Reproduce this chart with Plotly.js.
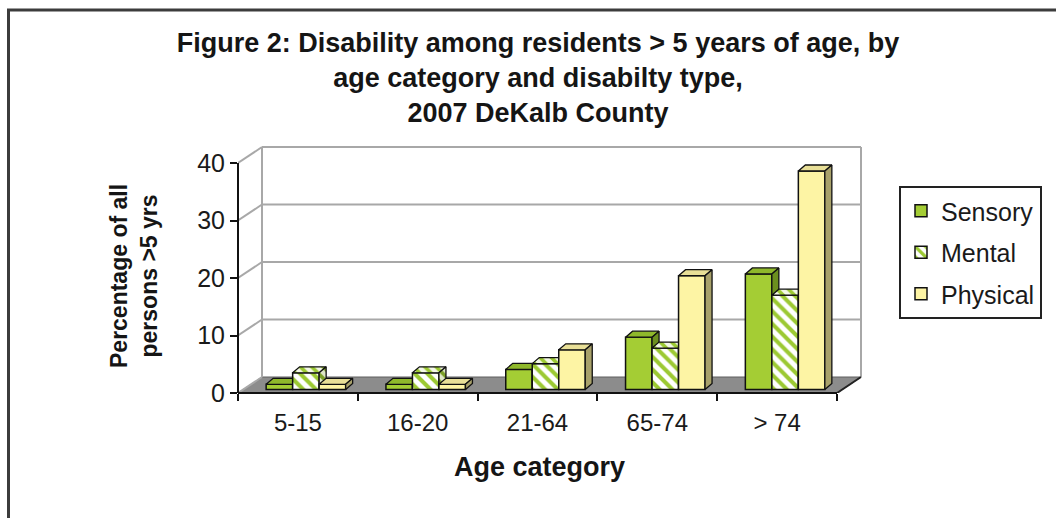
<!DOCTYPE html>
<html>
<head>
<meta charset="utf-8">
<script src="https://cdn.plot.ly/plotly-3.0.1.min.js"></script>
<style>
  html, body { margin: 0; padding: 0; background: #ffffff; }
  #chart { width: 1056px; height: 518px; }
</style>
</head>
<body>
<div id="chart"></div>
<script>
// Age categories and percentages by disability type
const categories = ['5-15', '16-20', '21-64', '65-74', '> 74'];
const sensory  = [0.9, 0.9, 3.5, 9.1, 20.1];
const mental   = [2.9, 2.9, 4.5, 7.2, 16.4];
const physical = [0.9, 0.9, 6.9, 19.8, 38.0];
const yTicks = [0, 10, 20, 30, 40];

const FONT = 'Liberation Sans, Arial, Helvetica, sans-serif';
const W = 1056, H = 518;
const M = { l: 238, r: 193, t: 146, b: 125 };
const PW = W - M.l - M.r, PH = H - M.t - M.b;

// pixel size of one category / one percentage point on the front plane
const CAT_PX = 119.8, VAL_PX = 5.75;
const xRange = [-0.5, -0.5 + PW / CAT_PX];
const yRange = [0, PH / VAL_PX];

// oblique depth offsets (converted to axis units)
const wall  = { dx: 24 / CAT_PX, dy: 16 / VAL_PX };   // back wall
const shift = { dx: 8 / CAT_PX,  dy: 3.5 / VAL_PX };  // plane the bars stand in
const depth = { dx: 7 / CAT_PX,  dy: 6 / VAL_PX };    // bar thickness
const barW = 26.5 / CAT_PX;

const px = v => (v - M.l) / PW;          // figure pixel -> paper x
const py = v => (H - M.b - v) / PH;      // figure pixel -> paper y

const series = [
  { name: 'Sensory', values: sensory,
    front: { color: '#a4cd34' }, top: '#8fb82b', side: '#6c8f1f' },
  { name: 'Mental', values: mental,
    front: { color: '#ffffff', pattern: { shape: '\\', fgcolor: '#9cc933', bgcolor: '#ffffff', size: 9, solidity: 0.45 } },
    topPattern: { shape: '\\', fgcolor: '#9cc933', bgcolor: '#f4f8e8', size: 8, solidity: 0.45 },
    sidePattern: { shape: '\\', fgcolor: '#7c9f27', bgcolor: '#dfe6c8', size: 8, solidity: 0.45 } },
  { name: 'Physical', values: physical,
    front: { color: '#fdf4a4' }, top: '#e8df97', side: '#a8a16a' }
];

const idx = categories.map((_, i) => i);
const traces = [];

series.forEach((s, k) => {
  const off = (k - 1.5) * barW;
  traces.push({
    type: 'bar', name: s.name, xaxis: 'x2', yaxis: 'y2',
    x: idx, y: s.values, width: barW, offset: off,
    legendgroup: s.name, zorder: 2 * k,
    marker: Object.assign({ line: { color: '#111111', width: 1.5 } }, s.front),
    hoverinfo: 'skip'
  });

  const topX = [], topY = [], sideX = [], sideY = [];
  s.values.forEach((v, i) => {
    const L = i + off, R = L + barW;
    topX.push(L, R, R + depth.dx, L + depth.dx, L, null);
    topY.push(v, v, v + depth.dy, v + depth.dy, v, null);
    sideX.push(R, R + depth.dx, R + depth.dx, R, R, null);
    sideY.push(0, depth.dy, v + depth.dy, v, 0, null);
  });
  const face = (xs, ys, color, pattern) => {
    const t = {
      type: 'scatter', mode: 'lines', xaxis: 'x2', yaxis: 'y2',
      x: xs, y: ys, fill: 'toself', showlegend: false,
      line: { color: '#111111', width: 1.3 }, zorder: 2 * k + 1,
      hoverinfo: 'skip'
    };
    if (pattern) { t.fillcolor = pattern.bgcolor; t.fillpattern = pattern; }
    else t.fillcolor = color;
    return t;
  };
  traces.push(face(topX, topY, s.top, s.topPattern));
  traces.push(face(sideX, sideY, s.side, s.sidePattern));
});

// walls, floor and front axes
const shapes = [];
const xL = -0.5, xR = categories.length - 0.5;
shapes.push({ type: 'path', xref: 'x', yref: 'y', layer: 'below',
  path: `M ${xL},0 L ${xR},0 L ${xR + wall.dx},${wall.dy} L ${xL + wall.dx},${wall.dy} Z`,
  fillcolor: '#8c8c8c', line: { color: '#5e5e5e', width: 1 } });
yTicks.forEach(v => {
  if (v > 0) {
    shapes.push({ type: 'line', xref: 'x', yref: 'y', layer: 'below',
      x0: xL + wall.dx, x1: xR + wall.dx, y0: v + wall.dy, y1: v + wall.dy,
      line: { color: '#a8a8a8', width: 2 } });
  }
  shapes.push({ type: 'line', xref: 'x', yref: 'y', layer: 'below',
    x0: xL, x1: xL + wall.dx, y0: v, y1: v + wall.dy,
    line: { color: '#a8a8a8', width: 2 } });
});
[xL, xR].forEach(x => shapes.push({ type: 'line', xref: 'x', yref: 'y', layer: 'below',
  x0: x + wall.dx, x1: x + wall.dx, y0: wall.dy, y1: yTicks[yTicks.length - 1] + wall.dy,
  line: { color: '#a8a8a8', width: 2 } }));
shapes.push({ type: 'line', xref: 'x', yref: 'y', layer: 'above',
  x0: xR, x1: xR + wall.dx, y0: 0, y1: wall.dy, line: { color: '#222222', width: 2 } });
shapes.push({ type: 'line', xref: 'paper', yref: 'y', layer: 'above',
  x0: 0, x1: 0, y0: 0, y1: yTicks[yTicks.length - 1], line: { color: '#111111', width: 2 } });
shapes.push({ type: 'line', xref: 'x', yref: 'paper', layer: 'above',
  x0: xL, x1: xR, y0: 0, y1: 0, line: { color: '#111111', width: 2 } });
// outer frame
shapes.push({ type: 'rect', xref: 'paper', yref: 'paper',
  x0: px(8.5), x1: px(1070), y0: py(10), y1: py(530),
  line: { color: '#3c3c3c', width: 3 }, fillcolor: 'rgba(0,0,0,0)' });

const layout = {
  width: W, height: H,
  margin: M,
  paper_bgcolor: '#ffffff', plot_bgcolor: 'rgba(0,0,0,0)',
  font: { family: FONT, color: '#1a1a1a', size: 22 },
  showlegend: true,
  hovermode: false,
  barmode: 'overlay',
  title: {
    text: 'Figure 2: Disability among residents > 5 years of age, by<br>age category and disabilty type,<br>2007 DeKalb County',
    font: { family: FONT, size: 27, color: '#151515', weight: 'bold' },
    xref: 'container', yref: 'container', x: 538 / W, xanchor: 'center',
    y: 1 - 52 / H, yanchor: 'top'
  },
  xaxis: {
    range: xRange, showgrid: false, zeroline: false, showline: false,
    tickmode: 'array', tickvals: idx, ticktext: categories,
    ticks: 'outside', ticklen: 8, tickcolor: 'rgba(0,0,0,0)',
    tickfont: { family: FONT, size: 24, color: '#1a1a1a' },
    minor: { ticks: 'outside', tickmode: 'linear', tick0: -0.5, dtick: 1,
             ticklen: 7, tickwidth: 2, tickcolor: '#111111', showgrid: false },
    fixedrange: true
  },
  yaxis: {
    range: yRange, showgrid: false, zeroline: false, showline: false,
    tickmode: 'array', tickvals: yTicks,
    ticks: 'outside', ticklen: 7, tickwidth: 2, tickcolor: '#111111',
    tickfont: { family: FONT, size: 25, color: '#1a1a1a' },
    fixedrange: true
  },
  xaxis2: { overlaying: 'x', visible: false, range: [xRange[0] - shift.dx, xRange[1] - shift.dx], fixedrange: true },
  yaxis2: { overlaying: 'y', visible: false, range: [yRange[0] - shift.dy, yRange[1] - shift.dy], fixedrange: true },
  legend: {
    x: px(899), y: py(186), xanchor: 'left', yanchor: 'top',
    bgcolor: '#ffffff', bordercolor: '#222222', borderwidth: 2,
    font: { family: FONT, size: 25, color: '#1a1a1a' },
    traceorder: 'grouped', tracegroupgap: 6
  },
  shapes: shapes,
  annotations: [
    { text: 'Percentage of all<br>persons >5 yrs', xref: 'paper', yref: 'paper',
      x: px(134), y: py(276), xanchor: 'center', yanchor: 'middle', textangle: -90,
      showarrow: false, font: { family: FONT, size: 23, color: '#151515', weight: 'bold' } },
    { text: 'Age category', xref: 'paper', yref: 'paper',
      x: px(539), y: py(467), xanchor: 'center', yanchor: 'middle',
      showarrow: false, font: { family: FONT, size: 27, color: '#151515', weight: 'bold' } }
  ]
};

Plotly.newPlot('chart', traces, layout, { displayModeBar: false, staticPlot: true });
</script>
</body>
</html>
